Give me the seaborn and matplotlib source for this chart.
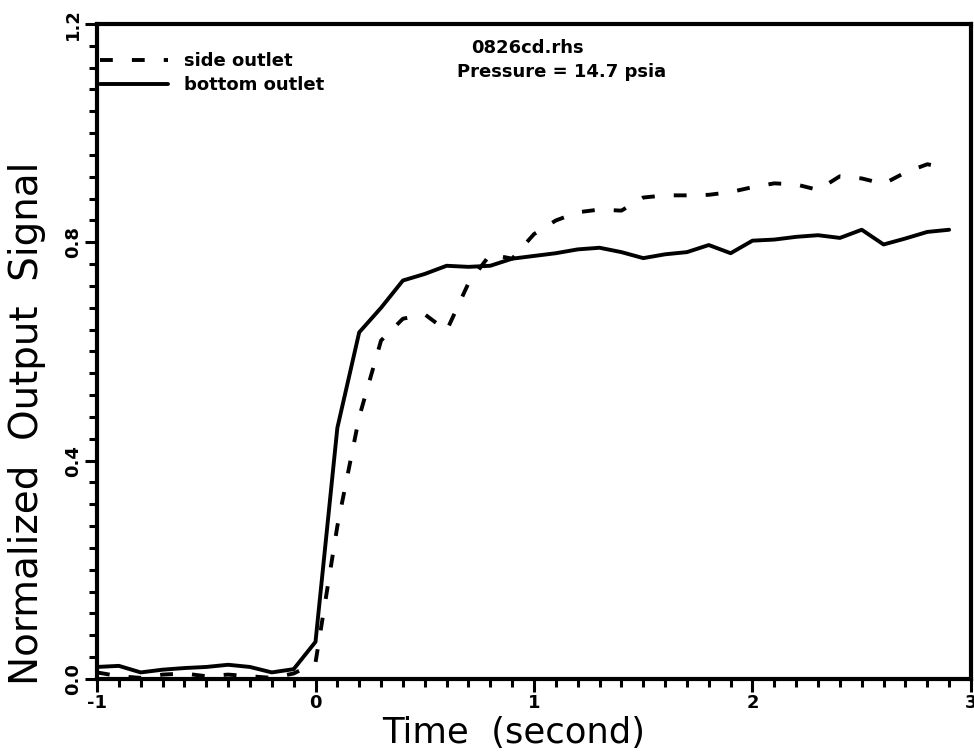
import matplotlib
matplotlib.use("Agg")
import matplotlib.pyplot as plt
from matplotlib.ticker import MultipleLocator, FixedLocator
from matplotlib.transforms import ScaledTranslation
import pandas as pd
import seaborn as sns

# ------------------------------------------------------------
# DATA (read off the scanned figure, sampled every 0.1 s)
# ------------------------------------------------------------
TIME = [-1.0, -0.9, -0.8, -0.7, -0.6, -0.5, -0.4, -0.3, -0.2, -0.1,
        0.0, 0.1, 0.2, 0.3, 0.4, 0.5, 0.6, 0.7, 0.8, 0.9,
        1.0, 1.1, 1.2, 1.3, 1.4, 1.5, 1.6, 1.7, 1.8, 1.9,
        2.0, 2.1, 2.2, 2.3, 2.4, 2.5, 2.6, 2.7, 2.8, 2.9]

SIDE_OUTLET = [0.012, 0.005, 0.002, 0.008, 0.010, 0.005, 0.008, 0.005, 0.002, 0.010,
               0.030, 0.280, 0.480, 0.620, 0.660, 0.668, 0.638, 0.725, 0.778, 0.770,
               0.815, 0.840, 0.855, 0.860, 0.858, 0.882, 0.886, 0.886, 0.887, 0.892,
               0.901, 0.908, 0.906, 0.896, 0.921, 0.917, 0.907, 0.928, 0.943, 0.935]

BOTTOM_OUTLET = [0.022, 0.024, 0.012, 0.017, 0.020, 0.022, 0.026, 0.022, 0.012, 0.018,
                 0.068, 0.460, 0.635, 0.680, 0.730, 0.742, 0.757, 0.755, 0.757, 0.770,
                 0.775, 0.780, 0.787, 0.790, 0.782, 0.771, 0.778, 0.782, 0.795, 0.780,
                 0.803, 0.805, 0.810, 0.813, 0.808, 0.823, 0.796, 0.807, 0.819, 0.823]

SERIES = ["side outlet", "bottom outlet"]
TITLE_LINES = ["0826cd.rhs", "Pressure = 14.7 psia"]
X_TICKS = [-1, 0, 1, 2, 3]
Y_TICKS = [0.0, 0.4, 0.8, 1.2]

df = pd.DataFrame({"Time": TIME, SERIES[0]: SIDE_OUTLET, SERIES[1]: BOTTOM_OUTLET})

# ------------------------------------------------------------
# STYLE
# ------------------------------------------------------------
sns.set_theme(style="ticks")
plt.rcParams["font.family"] = ["DejaVu Sans"]
plt.rcParams["text.color"] = "black"
plt.rcParams["axes.labelcolor"] = "black"
plt.rcParams["xtick.color"] = "black"
plt.rcParams["ytick.color"] = "black"

fig = plt.figure(figsize=(9.74, 7.56), dpi=100)
ax = fig.add_axes([0.0996, 0.1019, 0.8973, 0.8664])

sns.lineplot(data=df, x="Time", y=SERIES[0], ax=ax, color="black",
             linewidth=2.8, linestyle=(0, (3.3, 4.9)), label=SERIES[0])
sns.lineplot(data=df, x="Time", y=SERIES[1], ax=ax, color="black",
             linewidth=2.8, label=SERIES[1])

ax.set_xlim(-1, 3)
ax.set_ylim(0, 1.2)

ax.xaxis.set_major_locator(FixedLocator(X_TICKS))
ax.xaxis.set_minor_locator(MultipleLocator(0.1))
ax.yaxis.set_major_locator(FixedLocator(Y_TICKS))
ax.yaxis.set_minor_locator(MultipleLocator(0.04))
ax.set_xticklabels([f"{t:d}" for t in X_TICKS], fontweight="bold", fontsize=13,
                   color="black")
ax.set_yticklabels([f"{t:.1f}" for t in Y_TICKS], fontweight="bold", fontsize=13,
                   rotation=90, va="center", color="black")
# labels sit a little below their ticks in the original
shift = ScaledTranslation(0, -6 / 72, fig.dpi_scale_trans)
for lbl in ax.get_yticklabels():
    lbl.set_transform(lbl.get_transform() + shift)

ax.tick_params(which="major", direction="out", length=9, width=2.2, color="black", pad=2)
ax.tick_params(which="minor", direction="out", length=6, width=2.2, color="black")
for side in ["left", "right", "top", "bottom"]:
    ax.spines[side].set_visible(True)
    ax.spines[side].set_linewidth(3)
    ax.spines[side].set_color("black")

ax.set_xlabel("Time  (second)", fontsize=25.5, color="black")
ax.set_ylabel("Normalized  Output  Signal", fontsize=28, color="black")
ax.xaxis.set_label_coords(0.477, -0.057)
ax.yaxis.set_label_coords(-0.058, 0.39)

ax.legend(loc="upper left", bbox_to_anchor=(0.003, 0.957), frameon=False,
          handlelength=3.8, handletextpad=0.9, borderaxespad=0, borderpad=0,
          labelspacing=0.35, prop={"weight": "bold", "size": 13})

ax.text(0.493, 0.963, TITLE_LINES[0], transform=ax.transAxes, ha="center",
        va="center", fontsize=13, fontweight="bold")
ax.text(0.532, 0.927, TITLE_LINES[1], transform=ax.transAxes, ha="center",
        va="center", fontsize=13, fontweight="bold")

fig.savefig("out.png", dpi=100)
